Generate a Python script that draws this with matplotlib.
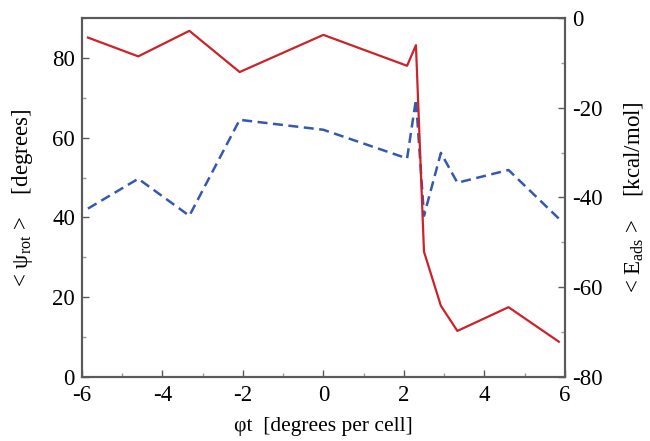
import matplotlib
matplotlib.use("Agg")
import matplotlib.pyplot as plt
from matplotlib.ticker import MultipleLocator

# Data
phi_t = [-5.85, -4.6, -3.33, -2.08, 0.0, 2.08, 2.3, 2.5, 2.92, 3.33, 4.6, 5.85]
psi_rot = [42.2, 49.7, 40.4, 64.5, 62.0, 54.8, 69.6, 40.4, 56.2, 48.7, 51.9, 39.7]
e_ads = [-4.3, -8.5, -2.8, -12.0, -3.7, -10.6, -6.0, -52.1, -64.2, -69.8, -64.5, -72.2]

x_ticks = [-6, -4, -2, 0, 2, 4, 6]
left_ticks = [0, 20, 40, 60, 80]
right_ticks = [-80, -60, -40, -20, 0]

plt.rcParams['font.family'] = ['Liberation Serif', 'DejaVu Serif']
plt.rcParams['mathtext.fontset'] = 'custom'
plt.rcParams['mathtext.rm'] = 'Liberation Serif'
plt.rcParams['mathtext.it'] = 'Liberation Serif:italic'
plt.rcParams['axes.unicode_minus'] = False

fig = plt.figure(figsize=(6.5, 4.41), dpi=100)
ax = fig.add_axes([0.126, 0.146, 0.743, 0.8125])
ax2 = ax.twinx()

spine_col = '#5a5a5a'
ax.plot(phi_t, psi_rot, color='#3558b0', lw=1.8, ls=(0, (4, 2.2)))
ax2.plot(phi_t, e_ads, color='#cc2229', lw=1.6)

ax.set_xlim(-6, 6)
ax.set_ylim(0, 90)
ax2.set_ylim(-80, 0)
ax.set_xticks(x_ticks)
ax.set_xticklabels([str(t) for t in x_ticks])
ax.set_yticks(left_ticks)
ax.set_yticklabels([str(t) for t in left_ticks])
ax2.set_yticks(right_ticks)
ax2.set_yticklabels([str(t) for t in right_ticks])
ax.xaxis.set_minor_locator(MultipleLocator(1))
ax.yaxis.set_minor_locator(MultipleLocator(10))
ax2.yaxis.set_minor_locator(MultipleLocator(10))

for a in (ax, ax2):
    for s in a.spines.values():
        s.set_color(spine_col)
        s.set_linewidth(1.5)
    a.tick_params(which='major', direction='in', length=5, width=1, color=spine_col,
                  labelsize=16.5, pad=5)
    a.tick_params(which='minor', direction='in', length=3, width=1, color='#9a9a9a')
ax.tick_params(axis='x', which='both', top=False, pad=6)

ax.set_xlabel('φt  [degrees per cell]', fontsize=15.5, labelpad=8)
ax.set_ylabel('< ψ$_{\\mathrm{rot}}$ >    [degrees]', fontsize=16.5, labelpad=12)
ax2.set_ylabel('< E$_{\\mathrm{ads}}$ >    [kcal/mol]', fontsize=16.5, labelpad=14)

fig.savefig('out.png', dpi=100)
